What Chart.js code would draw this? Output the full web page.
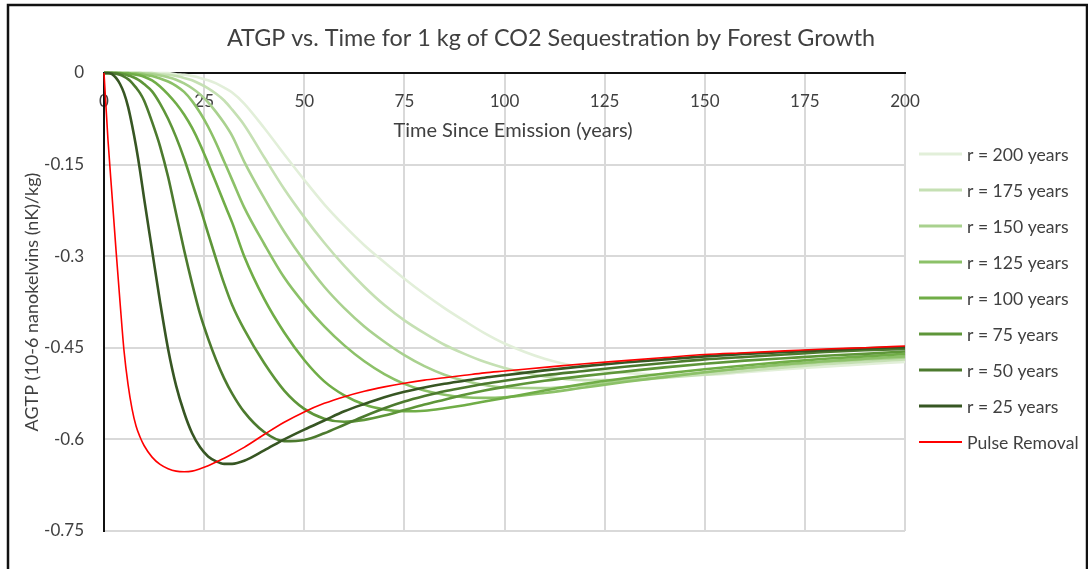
<!DOCTYPE html>
<html>
<head>
<meta charset="utf-8">
<script src="https://cdn.jsdelivr.net/npm/chart.js@4.4.1/dist/chart.umd.min.js"></script>
<style>
  html, body { margin: 0; padding: 0; background: #fff; }
  #wrap { position: relative; width: 1088px; height: 569px; }
</style>
</head>
<body>
<div id="wrap"><canvas id="agtpChart" width="1088" height="569"></canvas></div>
<script>
// years since emission (x values shared by every series)
const years = [0, 1, 2, 3, 4, 5, 6, 7, 8, 9, 10, 12, 14, 16, 18, 20, 22, 24, 26, 28, 30, 32, 35, 40, 45, 50, 55, 60, 65, 70, 75, 80, 85, 90, 95, 100, 110, 120, 130, 140, 150, 160, 170, 180, 190, 200];

// AGTP values
const pulseRemoval = [0, -0.11, -0.20, -0.29, -0.375, -0.455, -0.51, -0.55, -0.578, -0.596, -0.61, -0.629, -0.641, -0.648, -0.652, -0.653, -0.652, -0.648, -0.643, -0.637, -0.631, -0.624, -0.613, -0.592, -0.572, -0.555, -0.541, -0.53, -0.521, -0.514, -0.508, -0.503, -0.499, -0.495, -0.491, -0.488, -0.482, -0.476, -0.471, -0.466, -0.461, -0.458, -0.455, -0.452, -0.45, -0.447];
const r25 = [0, 0, -0.002, -0.008, -0.018, -0.033, -0.055, -0.085, -0.12, -0.16, -0.205, -0.29, -0.375, -0.452, -0.512, -0.556, -0.59, -0.613, -0.628, -0.636, -0.64, -0.64, -0.635, -0.618, -0.6, -0.584, -0.569, -0.554, -0.542, -0.531, -0.522, -0.515, -0.509, -0.504, -0.499, -0.495, -0.487, -0.48, -0.474, -0.469, -0.464, -0.46, -0.457, -0.454, -0.451, -0.449];
const r50 = [0, 0, 0, -0.001, -0.003, -0.006, -0.01, -0.016, -0.024, -0.033, -0.045, -0.08, -0.12, -0.17, -0.23, -0.29, -0.345, -0.395, -0.435, -0.47, -0.5, -0.525, -0.555, -0.588, -0.603, -0.601, -0.59, -0.576, -0.562, -0.549, -0.538, -0.529, -0.521, -0.515, -0.509, -0.504, -0.495, -0.488, -0.481, -0.475, -0.469, -0.465, -0.461, -0.457, -0.454, -0.452];
const r75 = [0, 0, 0, 0, -0.001, -0.002, -0.004, -0.006, -0.009, -0.013, -0.018, -0.03, -0.05, -0.075, -0.105, -0.14, -0.18, -0.22, -0.263, -0.305, -0.345, -0.38, -0.42, -0.475, -0.52, -0.55, -0.566, -0.571, -0.568, -0.561, -0.552, -0.543, -0.535, -0.527, -0.52, -0.514, -0.504, -0.496, -0.489, -0.482, -0.476, -0.471, -0.467, -0.463, -0.46, -0.456];
const r100 = [0, 0, 0, 0, 0, -0.001, -0.001, -0.002, -0.003, -0.004, -0.006, -0.012, -0.022, -0.035, -0.05, -0.068, -0.09, -0.117, -0.148, -0.18, -0.213, -0.245, -0.3, -0.37, -0.425, -0.47, -0.505, -0.528, -0.543, -0.551, -0.554, -0.553, -0.549, -0.544, -0.538, -0.532, -0.52, -0.509, -0.5, -0.492, -0.485, -0.479, -0.473, -0.468, -0.464, -0.46];
const r125 = [0, 0, 0, 0, 0, 0, 0, -0.001, -0.001, -0.002, -0.003, -0.005, -0.009, -0.014, -0.021, -0.031, -0.046, -0.065, -0.088, -0.115, -0.145, -0.175, -0.22, -0.28, -0.335, -0.378, -0.415, -0.446, -0.472, -0.493, -0.509, -0.52, -0.527, -0.531, -0.532, -0.531, -0.524, -0.515, -0.506, -0.498, -0.49, -0.483, -0.477, -0.472, -0.468, -0.464];
const r150 = [0, 0, 0, 0, 0, 0, 0, 0, 0, 0, -0.001, -0.002, -0.004, -0.007, -0.011, -0.017, -0.025, -0.035, -0.048, -0.064, -0.082, -0.103, -0.145, -0.205, -0.26, -0.308, -0.35, -0.385, -0.415, -0.44, -0.462, -0.48, -0.494, -0.504, -0.511, -0.515, -0.516, -0.511, -0.504, -0.497, -0.49, -0.484, -0.478, -0.473, -0.469, -0.466];
const r175 = [0, 0, 0, 0, 0, 0, 0, 0, 0, 0, 0, 0, -0.002, -0.003, -0.005, -0.008, -0.012, -0.018, -0.025, -0.034, -0.045, -0.06, -0.085, -0.138, -0.19, -0.236, -0.278, -0.316, -0.35, -0.38, -0.405, -0.426, -0.445, -0.46, -0.473, -0.483, -0.497, -0.503, -0.503, -0.499, -0.494, -0.488, -0.482, -0.477, -0.473, -0.469];
const r200 = [0, 0, 0, 0, 0, 0, 0, 0, 0, 0, 0, 0, 0, 0, -0.002, -0.003, -0.005, -0.008, -0.012, -0.017, -0.024, -0.032, -0.05, -0.09, -0.133, -0.175, -0.215, -0.25, -0.282, -0.31, -0.337, -0.362, -0.385, -0.406, -0.426, -0.443, -0.468, -0.483, -0.491, -0.494, -0.494, -0.49, -0.485, -0.481, -0.477, -0.473];

const yTicks = [0, -0.15, -0.3, -0.45, -0.6, -0.75];
const yTickLabels = ["0", "-0.15", "-0.3", "-0.45", "-0.6", "-0.75"];
const xTicks = [0, 25, 50, 75, 100, 125, 150, 175, 200];

// legend order top to bottom
const legendNames = ["r = 200 years", "r = 175 years", "r = 150 years", "r = 125 years", "r = 100 years", "r = 75 years", "r = 50 years", "r = 25 years", "Pulse Removal"];
const legendColors = ["#E2EFD9", "#C5E0B3", "#A9D18E", "#8CC168", "#70AD47", "#5E9639", "#4C7A2E", "#375623", "#FF0000"];

const TEXT = "#404040";
const FONT = "Lato";

function pts(vals) {
  return years.map((x, i) => ({ x: x, y: vals[i] }));
}

function line(label, vals, color, width) {
  return {
    label: label,
    data: pts(vals),
    borderColor: color,
    backgroundColor: color,
    borderWidth: width,
    pointRadius: 0,
    cubicInterpolationMode: "monotone",
    fill: false,
    clip: 6,
  };
}

// red on top, then dark to light greens underneath
const datasets = [
  line("Pulse Removal", pulseRemoval, legendColors[8], 1.6),
  line("r = 25 years", r25, legendColors[7], 2.6),
  line("r = 50 years", r50, legendColors[6], 2.6),
  line("r = 75 years", r75, legendColors[5], 2.6),
  line("r = 100 years", r100, legendColors[4], 2.6),
  line("r = 125 years", r125, legendColors[3], 2.6),
  line("r = 150 years", r150, legendColors[2], 2.6),
  line("r = 175 years", r175, legendColors[1], 2.6),
  line("r = 200 years", r200, legendColors[0], 2.6),
];

// titles, legend and frame
const decor = {
  id: "decor",
  afterDraw(chart) {
    const c = chart.ctx;
    c.save();
    c.fillStyle = TEXT;
    c.textBaseline = "middle";

    c.textAlign = "center";
    c.font = "23.4px " + FONT;
    c.fillText("ATGP vs. Time for 1 kg of CO2 Sequestration by Forest Growth", 551, 38);

    c.font = "20px " + FONT;
    c.fillText("Time Since Emission (years)", 513, 131);

    c.save();
    c.font = "18px " + FONT;
    c.translate(32, 302);
    c.rotate(-Math.PI / 2);
    c.fillText("AGTP (10-6 nanokelvins (nK)/kg)", 0, 0);
    c.restore();

    c.textAlign = "left";
    c.font = "17.6px " + FONT;
    legendNames.forEach((name, i) => {
      const y = 154 + 36 * i;
      c.strokeStyle = legendColors[i];
      c.lineWidth = i === 8 ? 1.8 : 3;
      c.beginPath();
      c.moveTo(919, y);
      c.lineTo(962, y);
      c.stroke();
      c.fillStyle = TEXT;
      c.fillText(name, 967, y + 1);
    });

    c.strokeStyle = "#111";
    c.lineWidth = 2.5;
    c.strokeRect(8, 5, 1079, 580);
    c.restore();
  },
};

const ctx = document.getElementById("agtpChart").getContext("2d");
const agtpChart = new Chart(ctx, {
  type: "line",
  data: { datasets: datasets },
  plugins: [decor],
  options: {
    responsive: false,
    animation: false,
    devicePixelRatio: 1,
    layout: { padding: { left: 0, top: 73, right: 183, bottom: 38 } },
    plugins: {
      legend: { display: false },
      title: { display: false },
      tooltip: { enabled: false },
    },
    scales: {
      x: {
        type: "linear",
        position: { y: 0 },
        min: 0,
        max: 200,
        afterBuildTicks: (scale) => {
          scale.ticks = xTicks.map((v) => ({ value: v }));
        },
        grid: { color: "#D9D9D9", lineWidth: 2, drawTicks: false },
        border: { display: true, color: "#111", width: 2 },
        ticks: { color: TEXT, font: { family: FONT, size: 17 }, padding: 18, maxRotation: 0 },
      },
      y: {
        type: "linear",
        min: -0.75,
        max: 0,
        afterBuildTicks: (scale) => {
          scale.ticks = yTicks.map((v) => ({ value: v }));
        },
        afterFit: (scale) => {
          scale.width = 104;
        },
        grid: { color: "#D9D9D9", lineWidth: 2, drawTicks: false },
        border: { display: true, color: "#111", width: 2 },
        ticks: {
          color: TEXT,
          font: { family: FONT, size: 17 },
          padding: 20,
          callback: (v, i) => yTickLabels[i],
        },
      },
    },
  },
});
</script>
</body>
</html>
